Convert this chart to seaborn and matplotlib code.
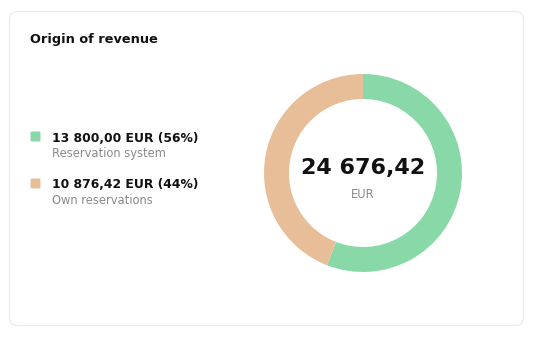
import matplotlib
matplotlib.use("Agg")
import matplotlib.pyplot as plt
from matplotlib.patches import FancyBboxPatch
import seaborn as sns

# Revenue split
categories = ["Reservation system", "Own reservations"]
amounts = [13800.00, 10876.42]
amount_labels = ["13 800,00 EUR (56%)", "10 876,42 EUR (44%)"]
total_label = "24 676,42"
currency = "EUR"
title = "Origin of revenue"
colors = ["#89D9A8", "#E8BE98"]

sns.set_theme(style="white")
plt.rcParams["font.family"] = ["DejaVu Sans"]

W, H = 534, 337
fig = plt.figure(figsize=(W / 100, H / 100), dpi=100)
fig.patch.set_facecolor("white")

# Overlay axes in pixel coordinates (y grows downward)
bg = fig.add_axes([0, 0, 1, 1])
bg.set_xlim(0, W)
bg.set_ylim(H, 0)
bg.axis("off")

card = FancyBboxPatch((9.5, 11.5), 514, 314,
                      boxstyle="round,pad=0,rounding_size=8",
                      facecolor="white", edgecolor="#EBEBEB", linewidth=1.0)
bg.add_patch(card)

bg.text(30, 40, title, fontsize=9.3, fontweight="bold", color="#111111",
        va="center", ha="left")

# Legend entries
legend_y = [137, 184]
for y, col, amt, cat in zip(legend_y, colors, amount_labels, categories):
    sq = FancyBboxPatch((30.5, y - 5.5), 10, 10,
                        boxstyle="round,pad=0,rounding_size=1.5",
                        facecolor=col, edgecolor="none")
    bg.add_patch(sq)
    bg.text(52, y + 1, amt, fontsize=8.9, fontweight="bold", color="#111111",
            va="center", ha="left")
    bg.text(52, y + 17, cat, fontsize=8.3, color="#8A8A8A",
            va="center", ha="left")

# Donut chart
cx, cy, r = 363, 173, 99
ax = fig.add_axes([(cx - r) / W, (H - cy - r) / H, 2 * r / W, 2 * r / H])
ax.pie(amounts, colors=colors, startangle=90, counterclock=False,
       wedgeprops=dict(width=25 / r, edgecolor="none", linewidth=0))
ax.set_xlim(-1, 1)
ax.set_ylim(-1, 1)
ax.set_aspect("equal")
ax.axis("off")

bg.text(cx, 168, total_label, fontsize=16, fontweight="bold", color="#111111",
        va="center", ha="center")
bg.text(cx, 194, currency, fontsize=8.3, color="#8A8A8A",
        va="center", ha="center")

fig.savefig("out.png", dpi=100, facecolor="white")
